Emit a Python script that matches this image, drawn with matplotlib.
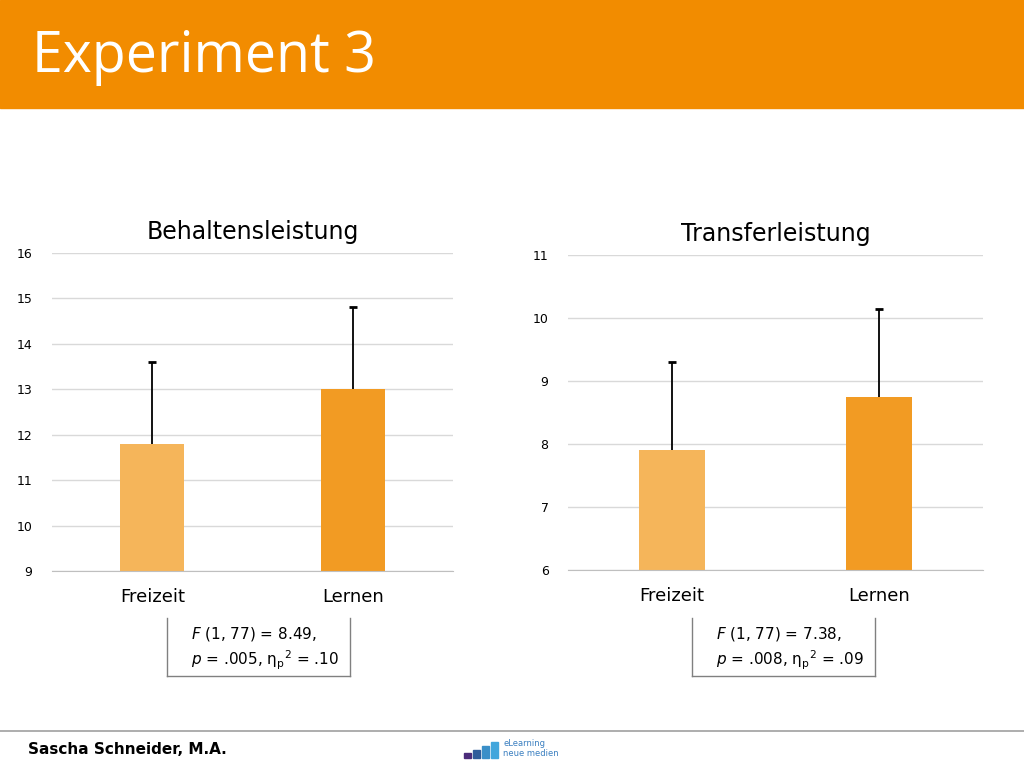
import matplotlib
matplotlib.use("Agg")
import matplotlib.pyplot as plt
from matplotlib.lines import Line2D
from matplotlib.patches import Rectangle

categories = ["Freizeit", "Lernen"]
behalten_means = [11.8, 13.0]
behalten_err = [1.8, 1.82]
transfer_means = [7.9, 8.75]
transfer_err = [1.4, 1.4]
colors = ["#F5B55A", "#F29B23"]

fig = plt.figure(figsize=(10.24, 7.68), dpi=100)
fig.patch.set_facecolor("white")
fig.add_artist(Rectangle((0, 1 - 108/768), 1, 108/768, transform=fig.transFigure, color="#F28C00", zorder=0))
fig.text(32/1024, 1 - 58/768, "Experiment 3", color="white", fontsize=40, va="center", family="Open Sans")

def panel(rect, means, errs, ylim, title):
    ax = fig.add_axes(rect)
    x = list(range(len(categories)))
    ax.bar(x, means, width=0.32, color=colors, zorder=2)
    tops = [m + e for m, e in zip(means, errs)]
    ax.vlines(x, means, tops, color="black", lw=1.3, zorder=3)
    ax.plot(x, tops, ls="none", marker="_", ms=6, mew=2, color="black", zorder=3)
    ax.set_ylim(*ylim)
    ax.set_xlim(-0.5, 1.5)
    ax.set_yticks(range(ylim[0], ylim[1] + 1))
    ax.grid(axis="y", color="#D9D9D9", linewidth=1, zorder=0)
    for s in ["top", "right", "left"]:
        ax.spines[s].set_visible(False)
    ax.spines["bottom"].set_color("#BFBFBF")
    ax.tick_params(axis="y", length=0, labelsize=9, pad=14)
    ax.tick_params(axis="x", length=0, labelsize=13, pad=12)
    ax.set_xticks(x)
    ax.set_xticklabels(categories)
    ax.set_title(title, fontsize=17, pad=10)
    return ax

panel([52/1024, 1 - 571/768, 401/1024, 318/768], behalten_means, behalten_err, (9, 16), "Behaltensleistung")
panel([568/1024, 1 - 570/768, 415/1024, 315/768], transfer_means, transfer_err, (6, 11), "Transferleistung")

def box(x0, x1, y0, y1, l1, l2):
    X0, X1 = x0/1024, x1/1024
    Y0, Y1 = 1 - y0/768, 1 - y1/768
    for xs, ys in [([X0, X0], [Y0, Y1]), ([X0, X1], [Y1, Y1]), ([X1, X1], [Y1, Y0])]:
        fig.add_artist(Line2D(xs, ys, color="#808080", lw=1, transform=fig.transFigure))
    fig.text((x0 + 24)/1024, 1 - 634/768, l1, fontsize=11, va="center")
    fig.text((x0 + 24)/1024, 1 - 660/768, l2, fontsize=11, va="center")

box(167, 350, 618, 676, r"$F$ (1, 77) = 8.49,", r"$p$ = .005, η$_\mathrm{p}$$^2$ = .10")
box(692, 875, 618, 676, r"$F$ (1, 77) = 7.38,", r"$p$ = .008, η$_\mathrm{p}$$^2$ = .09")

fig.add_artist(Line2D([0, 1], [1 - 731/768]*2, color="#A0A0A0", lw=1.2, transform=fig.transFigure))
fig.text(28/1024, 1 - 750/768, "Sascha Schneider, M.A.", fontsize=11, fontweight="bold", va="center", family="Liberation Sans Narrow")
for i, (h, c) in enumerate([(5, "#4B2C7A"), (8, "#2E5C9A"), (12, "#3A8FC8"), (16, "#41A6DC")]):
    fig.add_artist(Rectangle(((464 + i*9)/1024, 1 - 758/768), 7/1024, h/768, transform=fig.transFigure, color=c))
fig.text(503/1024, 1 - 744/768, "eLearning", fontsize=6, color="#3A7FC0", va="center")
fig.text(503/1024, 1 - 754/768, "neue medien", fontsize=6, color="#3A7FC0", va="center")

fig.savefig("out.png", dpi=100)
